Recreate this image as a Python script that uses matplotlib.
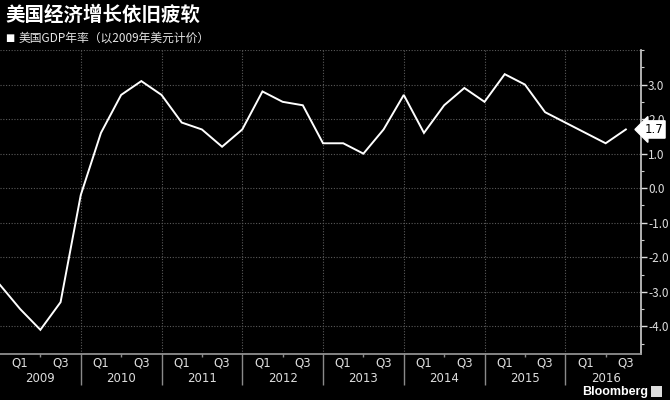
import numpy as np
import matplotlib.pyplot as plt
from matplotlib.patches import Rectangle

plt.rcParams['font.family'] = ['Noto Sans CJK SC', 'DejaVu Sans']

# data: US GDP yoy, quarters 2008Q4 .. 2016Q3
gdp = [-2.8, -3.5, -4.1, -3.3, -0.2, 1.6, 2.7, 3.1, 2.7, 1.9, 1.7, 1.2,
       1.7, 2.8, 2.5, 2.4, 1.3, 1.3, 1.0, 1.7, 2.7, 1.6, 2.4, 2.9,
       2.5, 3.3, 3.0, 2.2, 1.9, 1.6, 1.3, 1.7]
years = [2009, 2010, 2011, 2012, 2013, 2014, 2015, 2016]
q_labels = ['Q1', 'Q3']
y_ticks = [-4.0, -3.0, -2.0, -1.0, 0.0, 1.0, 2.0, 3.0]

title = '美国经济增长依旧疲软'
subtitle = '美国GDP年率（以2009年美元计价）'

# quarter-end positions: 2008Q4 -> 2009.0
x = 2009.0 + np.arange(len(gdp)) * 0.25

fig = plt.figure(figsize=(6.7, 4.0), dpi=100, facecolor='black')
ax = fig.add_axes([0.0, 0.115, 0.957, 0.76], facecolor='black')

ax.plot(x, gdp, color='white', lw=1.4, solid_joinstyle='miter')
ax.set_xlim(2009.0, 2016.94)
ax.set_ylim(-4.8, 4.0)

# grid
for yv in list(y_ticks) + [4.0]:
    ax.axhline(yv, color='#5a5a5a', lw=0.8, ls=(0, (1, 1.5)), zorder=0)
for yr in years[1:]:
    ax.axvline(yr, color='#5a5a5a', lw=0.8, ls=(0, (1, 1.5)), zorder=0)

for s in ['left', 'top']:
    ax.spines[s].set_visible(False)
ax.spines['right'].set_color('#cfcfcf')
ax.spines['bottom'].set_color('#9a9a9a')
ax.spines['right'].set_linewidth(1.2)
ax.spines['bottom'].set_linewidth(1.2)

ax.yaxis.tick_right()
ax.set_yticks(y_ticks)
ax.set_yticklabels(['%.1f' % v for v in y_ticks])
ax.set_yticks(np.arange(-4.5, 4.01, 0.5), minor=True)
ax.tick_params(axis='y', which='major', colors='#dddddd', labelsize=8.5,
               length=4, width=1, pad=1)
ax.tick_params(axis='y', which='minor', colors='#cfcfcf', length=2, width=0.8)

# x axis: long separators at year boundaries, small ticks mid-year
ax.set_xticks(years[1:])
ax.set_xticklabels([])
ax.set_xticks([yr + 0.5 for yr in years], minor=True)
ax.tick_params(axis='x', which='major', colors='#8a8a8a', length=22, width=1)
ax.tick_params(axis='x', which='minor', colors='#8a8a8a', length=2, width=1)

for yr in years:
    for q, off in zip(q_labels, [0.25, 0.75]):
        ax.annotate(q, xy=(yr + off, 0), xycoords=('data', 'axes fraction'),
                    xytext=(0, -9), textcoords='offset pixels',
                    ha='center', va='center', color='#dddddd', fontsize=8.5,
                    family='DejaVu Sans')
    ax.annotate(str(yr), xy=(yr + 0.5, 0), xycoords=('data', 'axes fraction'),
                xytext=(0, -24), textcoords='offset pixels',
                ha='center', va='center', color='#dddddd', fontsize=8.5,
                family='DejaVu Sans')

# last value label
ax.annotate('%.1f' % gdp[-1], xy=(2016.94, gdp[-1]), xytext=(3, 0),
            textcoords='offset pixels', ha='left', va='center',
            fontsize=8.5, color='black', family='DejaVu Sans',
            bbox=dict(boxstyle='larrow,pad=0.18', fc='white', ec='white'),
            annotation_clip=False)

# titles
fig.text(0.008, 0.962, title, color='white', fontsize=14, fontweight='bold',
         ha='left', va='center')
fig.text(0.008, 0.905, '■', color='white', fontsize=7, ha='left', va='center',
         family='DejaVu Sans')
fig.text(0.027, 0.905, subtitle, color='#e6e6e6', fontsize=8.5,
         ha='left', va='center')

# source
fig.text(0.968, 0.02, 'Bloomberg', color='white', fontsize=9,
         fontweight='bold', ha='right', va='center', family='Liberation Sans')
fig.add_artist(Rectangle((0.972, 0.008), 0.016, 0.026, transform=fig.transFigure,
                         fc='#dddddd', ec='none'))

fig.savefig('out.png', dpi=100, facecolor='black')
